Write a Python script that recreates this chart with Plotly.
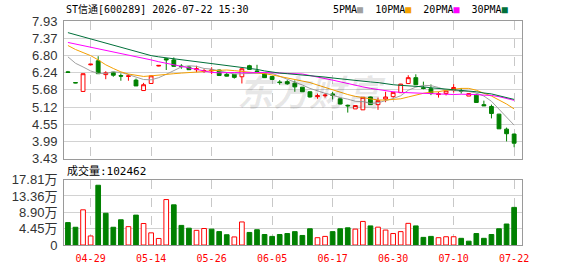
import plotly.graph_objects as go

# ---------------- data ----------------
dates = ["04-24", "04-27", "04-28", "04-29", "04-30", "05-06", "05-07", "05-08", "05-11", "05-12",
         "05-13", "05-14", "05-15", "05-18", "05-19", "05-20", "05-21", "05-22", "05-25", "05-26",
         "05-27", "05-28", "05-29", "06-01", "06-02", "06-03", "06-04", "06-05", "06-08", "06-09",
         "06-10", "06-11", "06-12", "06-15", "06-16", "06-17", "06-18", "06-22", "06-23", "06-24",
         "06-25", "06-26", "06-29", "06-30", "07-01", "07-02", "07-03", "07-06", "07-07", "07-08",
         "07-09", "07-10", "07-13", "07-14", "07-15", "07-16", "07-17", "07-20", "07-21", "07-22"]

opens = [6.27, 5.92, 5.63, 6.50, 6.63, 6.18, 6.26, 6.15, 6.12, 6.00,
         5.66, 5.89, 6.46, 6.70, 6.66, 6.46, 6.43, 6.34, 6.28, 6.30,
         6.33, 6.19, 6.19, 6.11, 6.47, 6.30, 6.21, 6.12, 5.94, 5.95,
         5.90, 5.77, 5.62, 5.46, 5.49, 5.55, 5.39, 5.18, 5.06, 5.03,
         5.45, 5.20, 5.38, 5.46, 5.59, 5.89, 6.08, 5.75, 5.72, 5.53,
         5.56, 5.66, 5.66, 5.48, 5.51, 5.20, 5.14, 4.89, 4.40, 4.24]
highs = [6.30, 5.93, 6.21, 6.52, 6.78, 6.29, 6.27, 6.22, 6.20, 6.05,
         5.91, 6.14, 6.48, 6.71, 6.74, 6.52, 6.45, 6.47, 6.36, 6.42,
         6.34, 6.23, 6.20, 6.39, 6.50, 6.50, 6.22, 6.13, 6.00, 6.00,
         5.99, 5.77, 5.63, 5.56, 5.57, 5.62, 5.40, 5.20, 5.17, 5.44,
         5.46, 5.43, 5.62, 5.60, 5.88, 6.16, 6.19, 5.95, 5.86, 5.62,
         5.68, 5.87, 5.74, 5.58, 5.56, 5.33, 5.20, 4.90, 4.45, 4.25]
lows = [6.24, 5.90, 5.63, 6.49, 6.20, 6.03, 6.11, 5.98, 5.98, 5.81,
        5.66, 5.89, 6.45, 6.33, 6.44, 6.37, 6.33, 6.26, 6.24, 6.19,
        6.14, 6.12, 6.05, 5.89, 6.33, 6.24, 6.07, 6.01, 5.85, 5.85,
        5.62, 5.62, 5.43, 5.39, 5.43, 5.37, 5.21, 4.94, 5.06, 5.03,
        5.19, 5.03, 5.28, 5.43, 5.58, 5.89, 5.84, 5.70, 5.51, 5.43,
        5.50, 5.59, 5.56, 5.48, 5.26, 5.16, 4.75, 4.41, 4.00, 3.81]
closes = [6.25, 5.91, 6.21, 6.52, 6.21, 6.24, 6.16, 6.13, 6.14, 5.81,
          5.85, 6.14, 6.48, 6.66, 6.45, 6.44, 6.34, 6.37, 6.31, 6.33,
          6.15, 6.13, 6.09, 6.37, 6.35, 6.28, 6.08, 6.02, 5.92, 5.88,
          5.78, 5.62, 5.45, 5.49, 5.51, 5.50, 5.22, 5.16, 5.17, 5.44,
          5.20, 5.33, 5.45, 5.60, 5.87, 6.08, 5.85, 5.73, 5.57, 5.55,
          5.65, 5.76, 5.64, 5.56, 5.27, 5.16, 4.91, 4.41, 4.25, 3.94]

ma5 = [6.76, 6.55, 6.43, 6.30, 6.22, 6.22, 6.27, 6.25, 6.18, 6.10,
       6.02, 6.01, 6.08, 6.19, 6.32, 6.43, 6.47, 6.45, 6.38, 6.36,
       6.30, 6.26, 6.20, 6.21, 6.22, 6.24, 6.23, 6.22, 6.13, 6.04,
       5.94, 5.84, 5.73, 5.64, 5.57, 5.51, 5.43, 5.38, 5.31, 5.30,
       5.24, 5.26, 5.32, 5.40, 5.49, 5.67, 5.77, 5.83, 5.82, 5.76,
       5.67, 5.65, 5.63, 5.63, 5.58, 5.48, 5.31, 5.06, 4.80, 4.53]
ma10 = [7.13, 7.00, 6.90, 6.80, 6.66, 6.50, 6.38, 6.27, 6.20, 6.16,
        6.12, 6.14, 6.17, 6.18, 6.21, 6.23, 6.24, 6.27, 6.28, 6.31,
        6.33, 6.33, 6.31, 6.29, 6.27, 6.24, 6.21, 6.17, 6.12, 6.07,
        6.03, 5.98, 5.92, 5.84, 5.76, 5.69, 5.61, 5.53, 5.47, 5.43,
        5.38, 5.35, 5.35, 5.36, 5.39, 5.45, 5.52, 5.57, 5.61, 5.62,
        5.67, 5.71, 5.73, 5.73, 5.67, 5.57, 5.48, 5.35, 5.22, 5.06]
ma20 = [7.23, 7.18, 7.13, 7.08, 7.03, 6.98, 6.93, 6.88, 6.82, 6.77,
        6.72, 6.66, 6.60, 6.55, 6.50, 6.45, 6.40, 6.35, 6.30, 6.25,
        6.24, 6.25, 6.25, 6.24, 6.25, 6.25, 6.25, 6.24, 6.23, 6.23,
        6.23, 6.20, 6.15, 6.09, 6.05, 6.00, 5.94, 5.88, 5.83, 5.78,
        5.73, 5.69, 5.66, 5.62, 5.60, 5.59, 5.58, 5.56, 5.55, 5.53,
        5.52, 5.53, 5.54, 5.54, 5.53, 5.51, 5.50, 5.46, 5.41, 5.34]
ma30 = [7.55, 7.48, 7.41, 7.34, 7.27, 7.21, 7.14, 7.07, 7.01, 6.94,
        6.87, 6.80, 6.76, 6.73, 6.70, 6.67, 6.64, 6.61, 6.58, 6.55,
        6.50, 6.48, 6.45, 6.43, 6.40, 6.35, 6.30, 6.26, 6.23, 6.21,
        6.19, 6.18, 6.16, 6.12, 6.10, 6.07, 6.04, 6.01, 5.98, 5.97,
        5.94, 5.92, 5.88, 5.85, 5.83, 5.82, 5.80, 5.78, 5.75, 5.73,
        5.71, 5.70, 5.68, 5.66, 5.62, 5.58, 5.55, 5.49, 5.44, 5.37]

# volume in 万 (10k)
volumes = [6.10, 4.83, 9.58, 2.46, 16.28, 8.65, 4.83, 6.87, 5.00, 8.14,
           5.85, 3.31, 1.78, 12.38, 10.94, 5.34, 4.58, 3.99, 4.49, 4.32,
           3.65, 2.80, 2.20, 6.28, 3.42, 4.16, 2.86, 2.34, 2.86, 3.12,
           3.64, 2.60, 4.42, 1.99, 2.34, 3.64, 4.42, 4.68, 4.33, 6.42,
           5.20, 4.86, 4.07, 3.12, 3.64, 5.90, 5.20, 2.08, 2.34, 1.99,
           2.25, 2.25, 1.82, 1.04, 3.12, 1.82, 2.86, 4.42, 5.72, 10.2462]
# 1 = rising (red, hollow), 0 = falling (green, solid), as drawn in the volume panel
vol_up = [0, 0, 1, 1, 0, 0, 0, 0, 1, 0,
          1, 1, 1, 1, 0, 0, 0, 1, 1, 0,
          0, 0, 1, 1, 0, 0, 0, 0, 0, 0,
          0, 0, 0, 1, 1, 0, 0, 0, 1, 1,
          0, 1, 1, 1, 1, 1, 0, 0, 0, 1,
          1, 1, 0, 0, 0, 0, 0, 0, 0, 0]

price_ticks = [3.43, 3.99, 4.55, 5.12, 5.68, 6.24, 6.80, 7.37, 7.93]
vol_ticks = [0, 4.45, 8.90, 13.36, 17.81]
vol_tick_text = ["0", "4.45万", "8.90万", "13.36万", "17.81万"]
date_tick_idx = [3, 11, 19, 27, 35, 43, 51, 59]
last_volume = "102462"
title_text = "ST信通[600289] 2026-07-22 15:30"

# ---------------- styles ----------------
RED = "#ff0000"
GREEN = "#008000"
MA_COLORS = {"5PMA": "#a0a0a0", "10PMA": "#f5a000", "20PMA": "#ff00ff", "30PMA": "#00703a"}
FRAME = "#9a9a9a"
GRID = "#d2d2d2"
MONO = "DejaVu Sans Mono, Noto Sans CJK SC, monospace"
SANS = "Liberation Sans, Arial, Noto Sans CJK SC, sans-serif"

x = list(range(len(dates)))

fig = go.Figure()

fig.add_trace(go.Candlestick(
    x=x, open=opens, high=highs, low=lows, close=closes,
    xaxis="x2", yaxis="y",
    increasing=dict(line=dict(color=RED, width=1), fillcolor="white"),
    decreasing=dict(line=dict(color=GREEN, width=1), fillcolor=GREEN),
    whiskerwidth=0, showlegend=False, hoverinfo="skip",
))

for name, vals in [("5PMA", ma5), ("10PMA", ma10), ("20PMA", ma20), ("30PMA", ma30)]:
    fig.add_trace(go.Scatter(
        x=x, y=vals, mode="lines", xaxis="x2", yaxis="y",
        line=dict(color=MA_COLORS[name], width=1), showlegend=False, hoverinfo="skip",
    ))

fig.add_trace(go.Bar(
    x=x, y=volumes, xaxis="x", yaxis="y2", width=0.62,
    marker=dict(color=["white" if u else GREEN for u in vol_up],
                line=dict(color=[RED if u else GREEN for u in vol_up], width=1)),
    showlegend=False, hoverinfo="skip",
))

xr = [-0.52, 60.04]
common_x = dict(range=xr, showline=True, linecolor=FRAME, linewidth=1, mirror=True,
                tickvals=date_tick_idx, showgrid=True, gridcolor="#c8c8c8", griddash="dash",
                gridwidth=1, zeroline=False, fixedrange=True)

fig.update_layout(
    width=578, height=276,
    margin=dict(l=56, r=56, t=21, b=21),
    paper_bgcolor="white", plot_bgcolor="white",
    bargap=0.35, boxgap=0.28,
    xaxis=dict(**common_x, anchor="y2",
               ticktext=[dates[i] for i in date_tick_idx],
               tickfont=dict(family=MONO, size=10, color=RED), ticks="", ticklabelstandoff=4),
    xaxis2=dict(**common_x, anchor="y", matches="x", showticklabels=False, ticks="",
                rangeslider=dict(visible=False)),
    yaxis=dict(domain=[0.3846, 1.0], range=[3.43, 7.93], tickvals=price_ticks,
               ticktext=[f"{v:.2f}" for v in price_ticks],
               tickfont=dict(family=SANS, size=13, color="#333333"),
               showline=True, linecolor=FRAME, mirror=True, showgrid=True, gridcolor=GRID,
               zeroline=False, ticks="", ticklabelstandoff=3, fixedrange=True),
    yaxis2=dict(domain=[0.0, 0.2919], range=[0, 17.81], tickvals=vol_ticks, ticktext=vol_tick_text,
                tickfont=dict(family=SANS, size=13, color="#333333"),
                showline=True, linecolor=FRAME, mirror=True, showgrid=True, gridcolor=GRID,
                zeroline=False, ticks="", ticklabelstandoff=3, fixedrange=True),
)

legend_html = "  ".join(
    f"{name}<span style='color:{c}'>■</span>" for name, c in MA_COLORS.items()
)

fig.update_layout(annotations=[
    dict(text=title_text, xref="paper", yref="paper", x=0.0, y=1.051,
         xanchor="left", yanchor="middle", showarrow=False,
         font=dict(family=MONO, size=10, color="#000000")),
    dict(text=legend_html, xref="paper", yref="paper", x=0.974, y=1.051,
         xanchor="right", yanchor="middle", showarrow=False,
         font=dict(family=MONO, size=10, color="#000000")),
    dict(text="成交量:" + last_volume, xref="paper", yref="paper", x=0.002, y=0.329,
         xanchor="left", yanchor="middle", showarrow=False,
         font=dict(family=MONO, size=11, color="#000000")),
    dict(text="<b><i>东方财富</i></b>", xref="paper", yref="paper", x=0.54, y=0.69,
         xanchor="center", yanchor="middle", showarrow=False,
         font=dict(family="Noto Sans CJK SC", size=36, color="rgba(0,0,0,0.09)")),
])

fig.write_html("out.html")
